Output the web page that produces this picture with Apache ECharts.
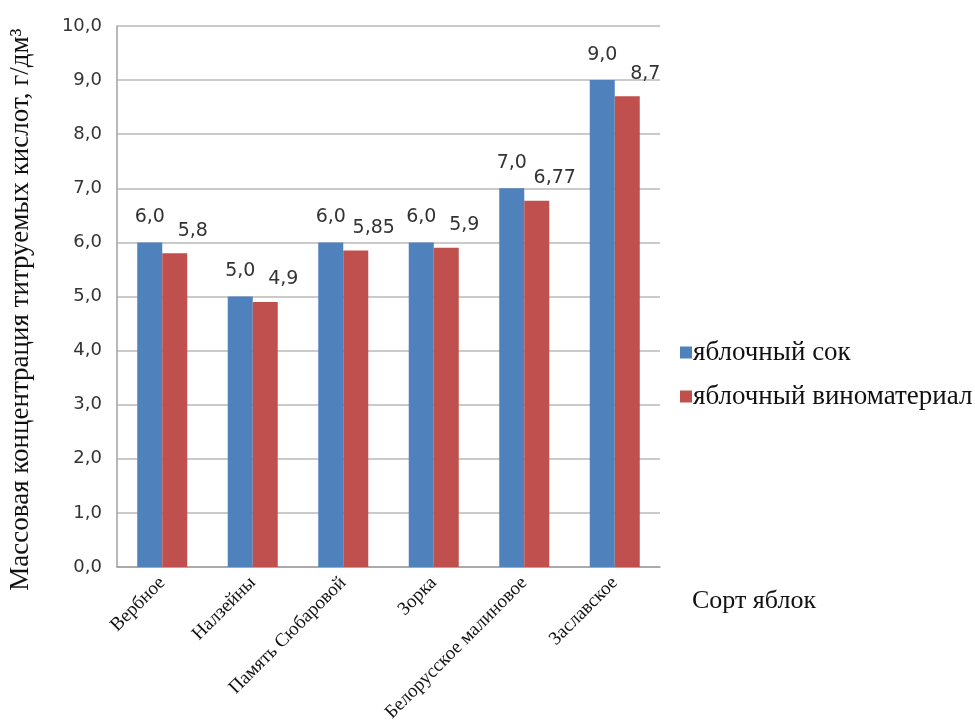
<!DOCTYPE html>
<html>
<head>
<meta charset="utf-8">
<script src="https://cdn.jsdelivr.net/npm/echarts@6/dist/echarts.min.js"></script>
<style>
  html, body { margin: 0; padding: 0; background: #fff; }
  #main { width: 975px; height: 725px; }
</style>
</head>
<body>
<div id="main"></div>
<script>
// сорта яблок
const categories = ['Вербное', 'Налзейны', 'Память Сюбаровой', 'Зорка', 'Белорусское малиновое', 'Заславское'];
const juice = [6.0, 5.0, 6.0, 6.0, 7.0, 9.0];
const wine = [5.8, 4.9, 5.85, 5.9, 6.77, 8.7];
const seriesNames = ['яблочный сок', 'яблочный виноматериал'];

const serif = '"Liberation Serif", "DejaVu Serif", serif';
const sans = '"DejaVu Sans", Verdana, sans-serif';

function fmt(v) {
  let s = Number.isInteger(v) ? v.toFixed(1) : String(v);
  return s.replace('.', ',');
}

const chart = echarts.init(document.getElementById('main'));
const option = {
  animation: false,
  backgroundColor: '#fff',
  legend: {
    orient: 'vertical',
    left: 680,
    top: 339,
    padding: 0,
    itemWidth: 12,
    itemHeight: 12,
    itemGap: 17,
    icon: 'rect',
    textStyle: { fontFamily: serif, fontSize: 27, color: '#111', padding: [0, 0, 0, -4] },
    data: seriesNames
  },
  grid: { left: 117, right: 315, top: 26, bottom: 158, outerBoundsMode: 'none' },
  xAxis: {
    type: 'category',
    data: categories,
    name: 'Сорт яблок',
    nameLocation: 'end',
    nameGap: 32,
    nameTextStyle: { fontFamily: serif, fontSize: 26, color: '#111', align: 'left', verticalAlign: 'top', padding: [21, 0, 0, 0] },
    axisLine: { lineStyle: { color: '#a0a0a0', width: 1.5 } },
    axisTick: { show: false },
    axisLabel: { interval: 0, rotate: 45, margin: 13, fontFamily: serif, fontSize: 19, color: '#111' }
  },
  yAxis: {
    type: 'value',
    min: 0,
    max: 10,
    interval: 1,
    name: 'Массовая концентрация титруемых кислот, г/дм³',
    nameLocation: 'middle',
    nameGap: 83,
    nameTextStyle: { fontFamily: serif, fontSize: 27, color: '#111', padding: [0, 26, 0, 0] },
    axisLine: { show: true, lineStyle: { color: '#a0a0a0', width: 1.5 } },
    axisTick: { show: false },
    axisLabel: { formatter: v => v.toFixed(1).replace('.', ','), margin: 15, fontFamily: sans, fontSize: 18, color: '#333' },
    splitLine: { lineStyle: { color: '#b8b8b8', width: 1.5 } }
  },
  series: [
    {
      name: seriesNames[0],
      type: 'bar',
      data: juice,
      barWidth: 25,
      barGap: '0%',
      itemStyle: { color: '#4F81BD' },
      label: { show: true, position: 'top', distance: 16, formatter: p => fmt(p.value), fontFamily: sans, fontSize: 19, color: '#333' }
    },
    {
      name: seriesNames[1],
      type: 'bar',
      data: wine,
      barWidth: 25,
      barGap: '0%',
      itemStyle: { color: '#C0504D' },
      label: { show: true, position: 'top', distance: 13, offset: [18, 0], formatter: p => fmt(p.value), fontFamily: sans, fontSize: 19, color: '#333' }
    }
  ]
};
chart.setOption(option);
</script>
</body>
</html>
